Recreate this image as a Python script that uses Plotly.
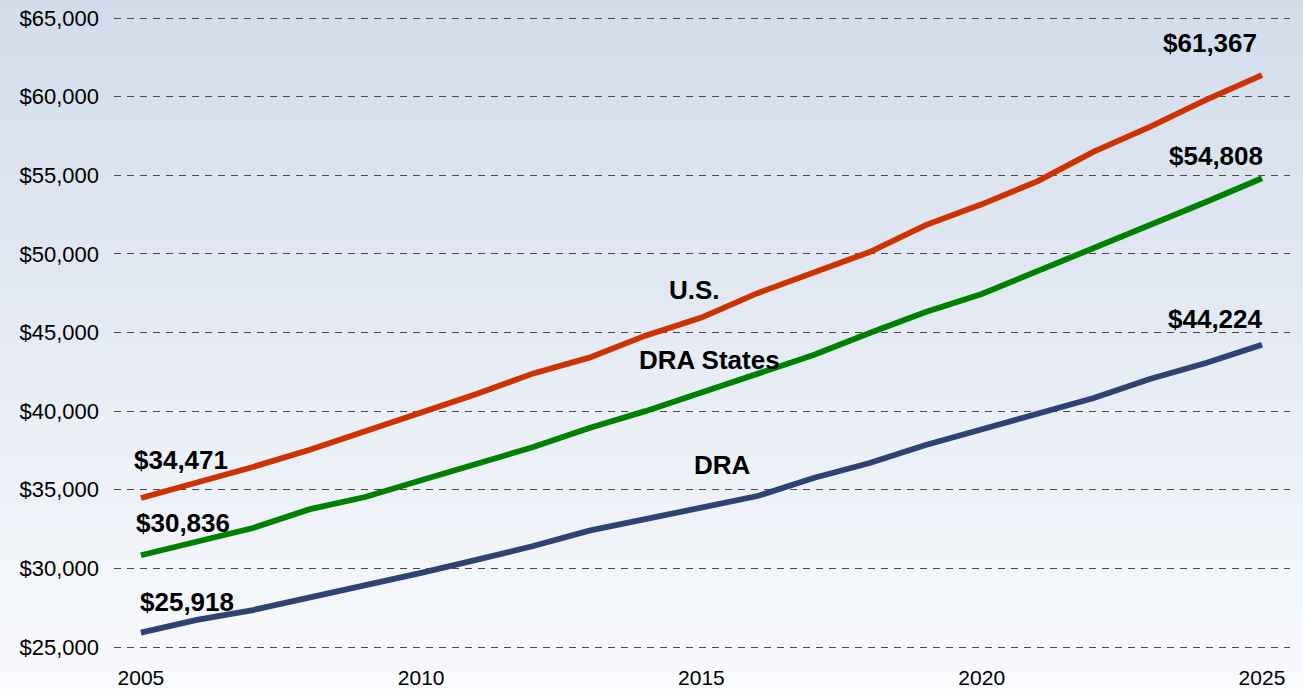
import plotly.graph_objects as go

years = list(range(2005, 2026))
us = [34471, 35430, 36450, 37530, 38700, 39850, 41100, 42400, 43400, 44800, 45950,
      47500, 48850, 50120, 51830, 53150, 54630, 56500, 58070, 59790, 61367]
dra_states = [30836, 31680, 32570, 33750, 34540, 35600, 36640, 37720, 38930, 40000, 41180,
              42420, 43570, 44970, 46300, 47450, 48910, 50310, 51770, 53300, 54808]
dra = [25918, 26720, 27350, 28110, 28940, 29710, 30560, 31420, 32400, 33150, 33850,
       34600, 35750, 36700, 37850, 38850, 39880, 40830, 42040, 43060, 44224]

series_names = ["U.S.", "DRA States", "DRA"]
series_values = [us, dra_states, dra]
series_colors = ["#CC3300", "#008000", "#2E4370"]
y_ticks = list(range(25000, 65001, 5000))
y_ticktext = ["$" + format(v, ",") for v in y_ticks]
x_ticks = [2005, 2010, 2015, 2020, 2025]

FONT = "Liberation Sans, Arial, sans-serif"
W, H = 1303, 689
ML, MR, MT, MB = 114, 13, 16, 40

fig = go.Figure()
for name, vals, col in zip(series_names, series_values, series_colors):
    fig.add_trace(go.Scatter(x=years, y=vals, mode="lines", name=name,
                             line=dict(color=col, width=5.8), hoverinfo="x+y"))

# background gradient as stacked bands covering the whole figure
ph = H - MT - MB
y_bot = -MB / ph - 0.01
y_top = (H - MB) / ph + 0.01
shapes = []
n = 70
top = (210, 220, 235)
bot = (249, 250, 253)
for i in range(n):
    t = i / (n - 1)
    c = tuple(round(bot[k] + (top[k] - bot[k]) * t) for k in range(3))
    ya = y_bot + (y_top - y_bot) * i / n
    yb = y_bot + (y_top - y_bot) * (i + 1) / n + 0.003
    shapes.append(dict(type="rect", xref="paper", yref="paper", x0=-0.2, x1=1.2,
                       y0=ya, y1=yb, fillcolor="rgb(%d,%d,%d)" % c, line=dict(width=0),
                       layer="below"))

annotations = []
lab_font = dict(family=FONT, size=26, color="#000000")
start_off = [(40, 38), (42, 32), (46, 31)]
end_off = [(-52, 32), (-46, 22), (-46, 26)]
for vals, so, eo in zip(series_values, start_off, end_off):
    annotations.append(dict(x=years[0], y=vals[0], text="<b>$%s</b>" % format(vals[0], ","),
                            showarrow=False, xshift=so[0], yshift=so[1], font=lab_font))
    annotations.append(dict(x=years[-1], y=vals[-1], text="<b>$%s</b>" % format(vals[-1], ","),
                            showarrow=False, xshift=eo[0], yshift=eo[1], font=lab_font))
name_pos = [(2014.87, 47703), (2015.15, 43251), (2015.38, 36574)]
for name, (nx, ny) in zip(series_names, name_pos):
    annotations.append(dict(x=nx, y=ny, text="<b>%s</b>" % name, showarrow=False, font=lab_font))

fig.update_layout(
    width=W, height=H,
    margin=dict(l=ML, r=MR, t=MT, b=MB, autoexpand=False),
    paper_bgcolor="#eef1f7", plot_bgcolor="rgba(0,0,0,0)",
    showlegend=False,
    shapes=shapes, annotations=annotations,
    font=dict(family=FONT, size=21, color="#000000"),
    xaxis=dict(range=[2004.52, 2025.5], tickvals=x_ticks, showgrid=False, zeroline=False,
               showline=False, ticks="", ticklabelstandoff=14, automargin=False,
               tickfont=dict(family=FONT, size=21, color="#000000")),
    yaxis=dict(range=[24873, 65127], tickvals=y_ticks, ticktext=y_ticktext,
               showgrid=True, gridcolor="#4a4a4a", gridwidth=1, griddash="7px,6px",
               zeroline=False, showline=False, ticks="", ticklabelstandoff=14,
               automargin=False,
               tickfont=dict(family=FONT, size=22, color="#000000")),
)

fig.write_html("out.html", config={"displayModeBar": False},
               post_script="document.body.style.margin='0';document.body.style.overflow='hidden';")
